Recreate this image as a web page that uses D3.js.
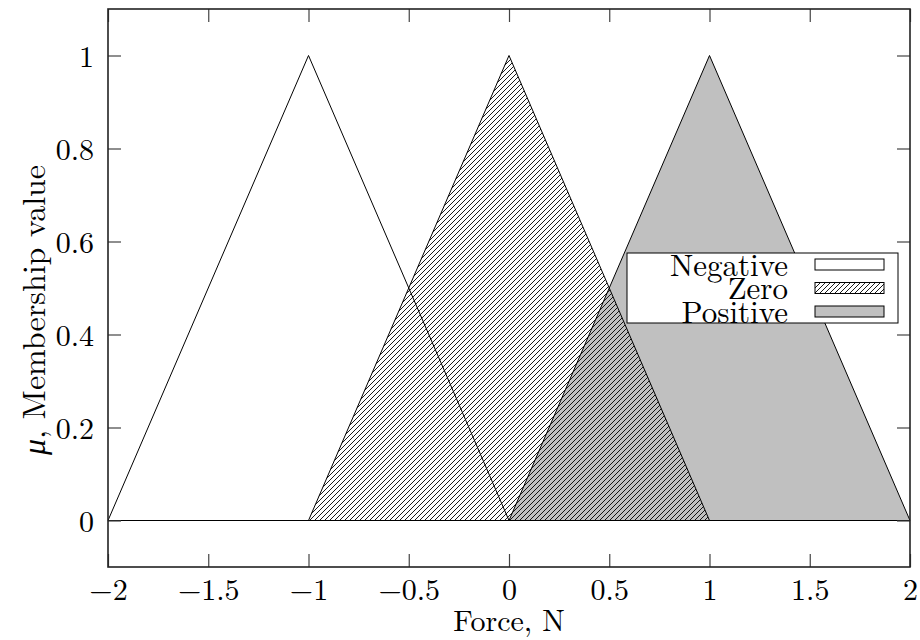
<!DOCTYPE html>
<html>
<head>
<meta charset="utf-8">
<script src="https://cdn.jsdelivr.net/npm/d3@7"></script>
<style>
  body { margin: 0; background: #fff; }
  svg { display: block; font-family: "Latin Modern Roman", "CMU Serif", "Liberation Serif", serif; }
</style>
</head>
<body>
<div id="chart"></div>
<script>
// membership functions (triangles)
var names = ["Negative", "Zero", "Positive"];
var negX = [-2, -1, 0], negY = [0, 1, 0];
var zeroX = [-1, 0, 1], zeroY = [0, 1, 0];
var posX = [0, 1, 2], posY = [0, 1, 0];
var xTicks = [-2, -1.5, -1, -0.5, 0, 0.5, 1, 1.5, 2];
var yTicks = [0, 0.2, 0.4, 0.6, 0.8, 1];

var width = 920, height = 640;
var m = {left: 108, right: 10, top: 9, bottom: 73};
var fs = 30;

var x = d3.scaleLinear().domain([-2, 2]).range([m.left, width - m.right]);
var y = d3.scaleLinear().domain([-0.1, 1.1]).range([height - m.bottom, m.top]);

var svg = d3.select("#chart").append("svg")
    .attr("width", width)
    .attr("height", height);

var defs = svg.append("defs");
defs.append("pattern")
    .attr("id", "hatch")
    .attr("patternUnits", "userSpaceOnUse")
    .attr("width", 5)
    .attr("height", 5)
  .append("path")
    .attr("d", "M0,5L5,0M-1,1L1,-1M4,6L6,4")
    .attr("stroke", "#000")
    .attr("stroke-width", 0.9);

var fills = {Negative: "#fff", Zero: "url(#hatch)", Positive: "#c0c0c0"};
var series = [
    {name: "Negative", xs: negX, ys: negY},
    {name: "Positive", xs: posX, ys: posY},
    {name: "Zero", xs: zeroX, ys: zeroY}
];

var line = d3.line().x(d => x(d[0])).y(d => y(d[1]));

svg.append("g")
  .selectAll("path")
  .data(series)
  .join("path")
    .attr("d", d => line(d3.zip(d.xs, d.ys)) + "Z")
    .attr("fill", d => fills[d.name])
    .attr("stroke", "#000")
    .attr("stroke-width", 1);

// axes: ticks inward and mirrored
var tickLen = 13;
var axisB = d3.axisBottom(x).tickValues(xTicks).tickSizeInner(-tickLen).tickSizeOuter(0)
    .tickFormat(d => d3.format("")(d).replace("-", "\u2212"));
var axisL = d3.axisLeft(y).tickValues(yTicks).tickSizeInner(-tickLen).tickSizeOuter(0)
    .tickFormat(d => d3.format("")(d));

var gb = svg.append("g")
    .attr("transform", `translate(0,${height - m.bottom})`)
    .call(axisB);
var gl = svg.append("g")
    .attr("transform", `translate(${m.left},0)`)
    .call(axisL);
svg.append("g")
    .attr("transform", `translate(0,${m.top})`)
    .call(d3.axisTop(x).tickValues(xTicks).tickSizeInner(-tickLen).tickSizeOuter(0).tickFormat(""));
svg.append("g")
    .attr("transform", `translate(${width - m.right},0)`)
    .call(d3.axisRight(y).tickValues(yTicks).tickSizeInner(-tickLen).tickSizeOuter(0).tickFormat(""));

svg.selectAll(".domain").remove();
svg.selectAll(".tick line").attr("stroke", "#444").attr("stroke-width", 1.2);
svg.selectAll("g").attr("font-family", null);

gb.selectAll("text")
    .attr("font-size", fs)
    .attr("fill", "#000")
    .attr("dy", null)
    .attr("y", 33);
gl.selectAll("text")
    .attr("font-size", fs)
    .attr("fill", "#000")
    .attr("x", -14)
    .attr("dy", "0.35em");

// frame
svg.append("rect")
    .attr("x", m.left)
    .attr("y", m.top)
    .attr("width", width - m.left - m.right)
    .attr("height", height - m.top - m.bottom)
    .attr("fill", "none")
    .attr("stroke", "#222")
    .attr("stroke-width", 1.6);

// axis labels
svg.append("text")
    .attr("x", (m.left + width - m.right) / 2)
    .attr("y", 631)
    .attr("text-anchor", "middle")
    .attr("font-size", fs)
    .text("Force, N");

var yl = svg.append("text")
    .attr("transform", `translate(45,${310}) rotate(-90)`)
    .attr("text-anchor", "middle")
    .attr("font-size", fs + 2);
yl.append("tspan").attr("font-style", "italic").text("\u03bc");
yl.append("tspan").text(", Membership value");

// legend
var leg = svg.append("g");
leg.append("rect")
    .attr("x", 627).attr("y", 253)
    .attr("width", 271).attr("height", 70)
    .attr("fill", "#fff")
    .attr("stroke", "#000")
    .attr("stroke-width", 1);

var rowY = d3.scalePoint().domain(names).range([264.5, 311.5]);
var rows = leg.selectAll("g.row")
  .data(names)
  .join("g")
    .attr("class", "row")
    .attr("transform", d => `translate(0,${rowY(d)})`);
rows.append("text")
    .attr("x", 788)
    .attr("y", 0)
    .attr("dy", "0.36em")
    .attr("text-anchor", "end")
    .attr("font-size", fs + 1)
    .text(d => d);
rows.append("rect")
    .attr("x", 815).attr("y", -5.5)
    .attr("width", 69).attr("height", 11)
    .attr("fill", d => fills[d])
    .attr("stroke", "#000")
    .attr("stroke-width", 1);
</script>
</body>
</html>
